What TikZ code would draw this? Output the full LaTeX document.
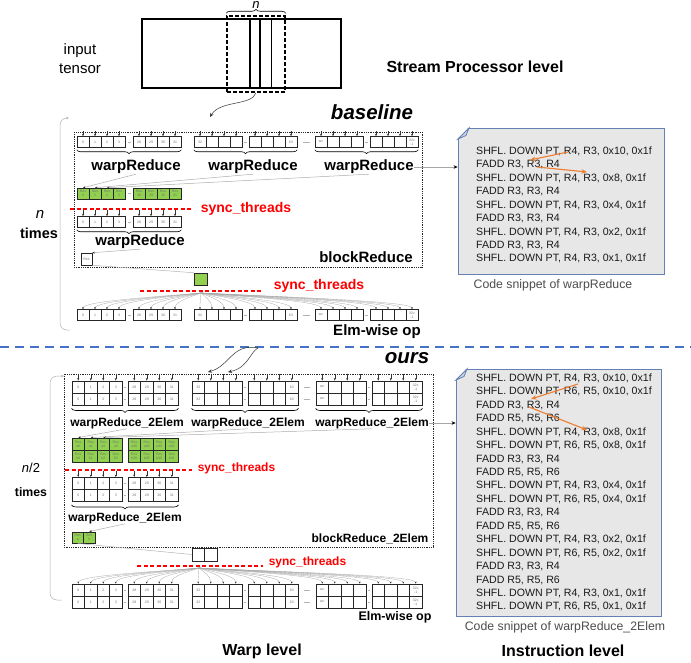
\documentclass[tikz,border=0pt]{standalone}
\usepackage{fontspec}
\setmainfont{Liberation Sans}
\usepackage{tikz}
\usetikzlibrary{positioning,arrows.meta,calc,decorations.pathreplacing}
\definecolor{resgreen}{RGB}{146,208,80}
\definecolor{syncred}{RGB}{255,0,0}
\definecolor{sepblue}{RGB}{68,114,196}
\definecolor{notegray}{RGB}{231,231,231}
\definecolor{noteblue}{RGB}{100,128,180}
\definecolor{regorange}{RGB}{237,125,49}

% four cells in a row: name, left x, centre y, cell width, style, labels
\newcommand{\cellgrp}[9]{%
  \node[#5] (#1-0) at (#2+0.5*#4,#3) {#6};
  \node[#5] (#1-1) at (#2+1.5*#4,#3) {#7};
  \node[#5] (#1-2) at (#2+2.5*#4,#3) {#8};
  \node[#5] (#1-3) at (#2+3.5*#4,#3) {#9};
}

\begin{document}
\begin{tikzpicture}[x=1pt, y=-1pt,
  cellb/.style={draw=black!85, fill=white, line width=0.5pt, minimum width=12pt, minimum height=11pt, inner sep=0pt, align=center, text=black!55, font=\fontsize{3.5}{3.9}\selectfont},
  cello/.style={cellb, line width=0.9pt, minimum width=12.5pt, minimum height=12pt},
  resb/.style={cellb, fill=resgreen},
  reso/.style={cello, fill=resgreen},
  wlab/.style={inner sep=0pt, font=\bfseries\fontsize{15}{18}\selectfont},
  wlabs/.style={inner sep=0pt, font=\bfseries\fontsize{12}{14}\selectfont},
  slab/.style={inner sep=0pt, text=syncred, font=\bfseries\fontsize{14}{17}\selectfont},
  slabs/.style={slab, font=\bfseries\fontsize{12}{14}\selectfont},
  sline/.style={draw=syncred, line width=1.1pt, dash pattern=on 4pt off 2.5pt},
  tick/.style={black!80, line width=0.4pt, -{Stealth[length=2.5pt,width=2pt]}},
  glink/.style={gray!65, line width=0.5pt, -{Stealth[length=2.5pt,width=2pt,color=black!80]}},
  fan/.style={gray!70, line width=0.3pt, -{Stealth[length=2pt,width=1.8pt,color=black!80]}},
  gdash/.style={gray!60, line width=0.5pt},
  brc/.style={decorate, decoration={brace, mirror, amplitude=4pt}, line width=0.6pt},
  loopl/.style={gray!60, line width=0.5pt, rounded corners=7pt, -{Stealth[length=3pt,width=2.5pt]}},
  dotbox/.style={draw=black!85, line width=0.8pt, densely dotted},
  tosnip/.style={gray!70, line width=0.6pt, -{Stealth[length=4pt,width=3.5pt,color=black]}},
  codetxt/.style={align=left, inner sep=0pt, text=black!90, font=\fontsize{10.6}{13.45}\selectfont},
  orng/.style={regorange, line width=1.1pt, -{Stealth[length=5.5pt,width=4.5pt]}},
  caplab/.style={inner sep=0pt, text=black!70, font=\fontsize{12.3}{14}\selectfont},
  curv/.style={black!80, line width=0.5pt, -{Stealth[length=4pt,width=3.5pt]}},
  ttl/.style={inner sep=0pt, font=\bfseries\fontsize{16}{19}\selectfont}
  ]
\useasboundingbox (0,0) rectangle (691,663);

% ---- stream processor level
\node[draw, line width=1.5pt, minimum width=199pt, minimum height=69pt] (tensor) at (241.5,53.5) {};
\draw[line width=1.3pt] (250,19) -- (250,88);
\draw[line width=1.3pt] (260,19) -- (260,88);
\draw[line width=1.3pt] (271.5,19) -- (271.5,88);
\node[draw, line width=1.5pt, dash pattern=on 4pt off 2pt, minimum width=58pt, minimum height=76pt] (dsel) at (256,54) {};
\draw[decorate, decoration={brace, amplitude=4pt}, line width=0.6pt] ([yshift=2pt]dsel.north west) -- ([yshift=2pt]dsel.north east);
\node[inner sep=0pt, font=\itshape\fontsize{13}{15}\selectfont] (nsel) at (256,5.5) {n};
\node[align=center, inner sep=0pt, font=\fontsize{15}{19}\selectfont] (intxt) at (80,59) {input\\tensor};
\node[ttl] (splvl) at (475,67) {Stream Processor level};
\coordinate (arrtop) at (210,117);
\draw[curv] (dsel.south) .. controls (252,106) and (220,100) .. (arrtop);

% ---- baseline
\node[inner sep=0pt, font=\bfseries\itshape\fontsize{20.5}{24}\selectfont] (basel) at (372,112) {baseline};
\draw[dotbox] (74,132) rectangle (422,267);
\coordinate (loop1b) at (70,330);
\coordinate (loop1t) at (69,118);
\draw[loopl] (loop1b) -- (60,330) -- (60,118) -- (loop1t);
\node[inner sep=0pt, font=\itshape\fontsize{15}{18}\selectfont] (n1) at (40,214) {n};
\node[inner sep=0pt, font=\bfseries\fontsize{14.5}{17}\selectfont] (times1) at (39,233) {times};

\cellgrp{r1a}{77}{142}{12}{cellb}{0}{1}{2}{3}
\cellgrp{r1b}{133}{142}{12}{cellb}{28}{29}{30}{31}
\cellgrp{r1c}{194}{142}{12}{cellb}{32}{}{}{}
\cellgrp{r1d}{249}{142}{12}{cellb}{}{}{}{63}
\cellgrp{r1e}{315}{142}{12}{cellb}{wc}{}{}{}
\cellgrp{r1f}{370}{142}{12}{cellb}{}{}{}{32c\\-1}
\foreach \g in {r1a,r1b,r1c,r1d,r1e,r1f}{
  \foreach \i in {0,...,3}{\draw[tick] ([yshift=5pt]\g-\i.north) -- (\g-\i.north);}}
\draw[brc] ([yshift=-2pt]r1a-0.south west) -- ([yshift=-2pt]r1b-3.south east);
\draw[brc] ([yshift=-2pt]r1c-0.south west) -- ([yshift=-2pt]r1d-3.south east);
\draw[brc] ([yshift=-2pt]r1e-0.south west) -- ([yshift=-2pt]r1f-3.south east);
\node[wlab] (wr1) at (136,167) {warpReduce};
\node[wlab] (wr2) at (253,167) {warpReduce};
\node[wlab] (wr3) at (369,167) {warpReduce};

\cellgrp{g1a}{77}{193.5}{12}{resb}{Res\\0}{Res\\1}{Res\\2}{Res\\3}
\cellgrp{g1b}{133}{193.5}{12}{resb}{Res\\28}{Res\\29}{Res\\30}{Res\\31}
\draw[glink] (wr1.south) -- (g1a-0.north);
\draw[glink] (wr2.south) -- (g1a-1.north);
\draw[glink] (wr3.south) -- (g1a-2.north);

\cellgrp{r3a}{77}{222}{12}{cellb}{0}{1}{2}{3}
\cellgrp{r3b}{133}{222}{12}{cellb}{28}{29}{30}{31}
\foreach \g in {r3a,r3b}{
  \foreach \i in {0,...,3}{\draw[tick] ([yshift=6.5pt]\g-\i.north) -- (\g-\i.north);}}
\node[slab] (sync1) at (246,209) {sync\_threads};
\draw[brc] ([yshift=-2pt]r3a-0.south west) -- ([yshift=-2pt]r3b-3.south east);
\node[wlab] (wr4) at (140,242) {warpReduce};
\node[cellb, minimum width=11pt, minimum height=12pt] (resw) at (86.5,259) {Res};
\draw[glink] (wr4.south) -- (resw.north east);
\node[wlab] (blk1) at (366,257) {blockReduce};

\node[resb, minimum width=13pt, minimum height=12pt] (gsq) at (200.5,279) {};
\draw[gdash] (resw.south east) -- (gsq.north west);
\coordinate (fan1) at (201,293);
\cellgrp{r5a}{77}{315}{12}{cellb}{0}{1}{2}{3}
\cellgrp{r5b}{133}{315}{12}{cellb}{28}{29}{30}{31}
\cellgrp{r5c}{194}{315}{12}{cellb}{32}{}{}{}
\cellgrp{r5d}{249}{315}{12}{cellb}{}{}{}{63}
\cellgrp{r5e}{315}{315}{12}{cellb}{wc}{}{}{}
\cellgrp{r5f}{370}{315}{12}{cellb}{}{}{}{32c\\-1}
\foreach \g in {r5a,r5b,r5c,r5d,r5e,r5f}{
  \foreach \i in {0,...,3}{
    \draw[fan] (fan1) .. controls ($(fan1)!0.4!(fan1 -| \g-\i.north)+(0,4)$) and ($(\g-\i.north)+(0,-8)$) .. (\g-\i.north);}}
\node[slab] (sync2) at (319,286) {sync\_threads};
\node[wlab] (elm1) at (377,332) {Elm-wise op};
\foreach \p/\q in {r1a/r1b,r1c/r1d,r1d/r1e,r1e/r1f,r3a/r3b,g1a/g1b,r5a/r5b,r5c/r5d,r5d/r5e,r5e/r5f}
  \draw[gdash] ($(\p-3.east)!0.3!(\q-0.west)$) -- ($(\p-3.east)!0.7!(\q-0.west)$);

% ---- code snippet of warpReduce
\node[draw=noteblue, fill=notegray, line width=0.8pt, minimum width=206pt, minimum height=146pt, inner sep=0pt] (snip1) at (561,201) {};
\fill[white] (456.5,126.5) -- (469.5,126.5) -- (456.5,139.5) -- cycle;
\filldraw[draw=noteblue, fill=noteblue!35, line width=0.8pt] (458,139) -- (469,128) -- (466,135.5) -- cycle;
\node[codetxt, anchor=west] (code1) at (476,205) {SHFL. DOWN PT, R4, R3, 0x10, 0x1f\\FADD R3, R3, R4\\SHFL. DOWN PT, R4, R3, 0x8, 0x1f\\FADD R3, R3, R4\\SHFL. DOWN PT, R4, R3, 0x4, 0x1f\\FADD R3, R3, R4\\SHFL. DOWN PT, R4, R3, 0x2, 0x1f\\FADD R3, R3, R4\\SHFL. DOWN PT, R4, R3, 0x1, 0x1f};
\coordinate (o1s) at (568,152);
\coordinate (o1e) at (530,160);
\coordinate (o2s) at (537,167);
\coordinate (o2e) at (587,172);
\draw[orng] (o1s) -- (o1e);
\draw[orng] (o2s) -- (o2e);
\node[caplab] (cap1) at (553,285) {Code snippet of warpReduce};
\draw[tosnip] (wr3.east) -- (wr3.east -| snip1.west);

% ---- separator
\draw[sepblue, line width=2pt, dash pattern=on 9pt off 6pt] (0,347) -- (691,347);

% ---- ours
\node[inner sep=0pt, font=\bfseries\itshape\fontsize{20.5}{24}\selectfont] (oursl) at (407,358) {ours};
\coordinate (csrc) at (258,348);
\coordinate (cendA) at (208,372);
\coordinate (cendB) at (228,372);
\draw[curv] (csrc) .. controls (232,343) and (230,366) .. (cendA);
\draw[curv] (csrc) .. controls (250,352) and (248,368) .. (cendB);
\draw[dotbox] (64,374) rectangle (433,547);
\coordinate (loop2b) at (62,600);
\coordinate (loop2t) at (64,376);
\draw[loopl] (loop2b) -- (50,600) -- (50,376) -- (loop2t);
\node[inner sep=0pt, font=\fontsize{13}{15}\selectfont] (n2) at (31,468) {\textit{n}/2};
\node[inner sep=0pt, font=\bfseries\fontsize{12.3}{15}\selectfont] (times2) at (31,492) {times};

\cellgrp{t1a}{72}{387}{12.5}{cello}{0}{1}{2}{3}
\cellgrp{t1b}{128}{387}{12.5}{cello}{28}{29}{30}{31}
\cellgrp{t1c}{192}{387}{12.5}{cello}{32}{}{}{}
\cellgrp{t1d}{248}{387}{12.5}{cello}{}{}{}{63}
\cellgrp{t1e}{316}{387}{12.5}{cello}{wc}{}{}{}
\cellgrp{t1f}{372}{387}{12.5}{cello}{}{}{}{32c\\-1}
\cellgrp{u1a}{72}{399}{12.5}{cello}{0}{1}{2}{3}
\cellgrp{u1b}{128}{399}{12.5}{cello}{28}{29}{30}{31}
\cellgrp{u1c}{192}{399}{12.5}{cello}{32}{}{}{}
\cellgrp{u1d}{248}{399}{12.5}{cello}{}{}{}{63}
\cellgrp{u1e}{316}{399}{12.5}{cello}{wc}{}{}{}
\cellgrp{u1f}{372}{399}{12.5}{cello}{}{}{}{32c\\-1}
\foreach \g in {t1a,t1b,t1c,t1d,t1e,t1f}{
  \foreach \i in {0,...,3}{\draw[tick] ([yshift=7pt]\g-\i.north) -- (\g-\i.north);}}
\draw[brc] ([yshift=-3pt]u1a-0.south west) -- ([yshift=-3pt]u1b-3.south east);
\draw[brc] ([yshift=-3pt]u1c-0.south west) -- ([yshift=-3pt]u1d-3.south east);
\draw[brc] ([yshift=-3pt]u1e-0.south west) -- ([yshift=-3pt]u1f-3.south east);
\node[wlabs] (wo1) at (127,423) {warpReduce\_2Elem};
\node[wlabs] (wo2) at (248,423) {warpReduce\_2Elem};
\node[wlabs] (wo3) at (372,423) {warpReduce\_2Elem};

\cellgrp{tga}{72}{444}{12.5}{reso}{Res\\a0}{Res\\a1}{Res\\a2}{Res\\a3}
\cellgrp{tgb}{128}{444}{12.5}{reso}{Res\\a28}{Res\\a29}{Res\\a30}{Res\\a31}
\cellgrp{uga}{72}{456}{12.5}{reso}{Res\\b0}{Res\\b1}{Res\\b2}{Res\\b3}
\cellgrp{ugb}{128}{456}{12.5}{reso}{Res\\b28}{Res\\b29}{Res\\b30}{Res\\b31}
\draw[glink] (wo1.south) -- (tga-0.north);
\draw[glink] (wo2.south) -- (tga-1.north);
\draw[glink] (wo3.south) -- (tga-2.north);

\cellgrp{t3a}{72}{483.5}{12.5}{cello}{0}{1}{2}{3}
\cellgrp{t3b}{128}{483.5}{12.5}{cello}{28}{29}{30}{31}
\cellgrp{u3a}{72}{495.5}{12.5}{cello}{0}{1}{2}{3}
\cellgrp{u3b}{128}{495.5}{12.5}{cello}{28}{29}{30}{31}
\foreach \g in {t3a,t3b}{
  \foreach \i in {0,...,3}{\draw[tick] ([yshift=6pt]\g-\i.north) -- (\g-\i.north);}}
\node[slabs] (sync3) at (236.5,468) {sync\_threads};
\draw[brc] ([yshift=-3pt]u3a-0.south west) -- ([yshift=-3pt]u3b-3.south east);
\node[wlabs] (wo4) at (125,518) {warpReduce\_2Elem};
\node[reso, minimum width=11.5pt, minimum height=11pt] (resa) at (77.75,537.5) {Res\\a};
\node[reso, minimum width=11.5pt, minimum height=11pt] (resbb) at (89.25,537.5) {Res\\b};
\draw[glink] (wo4.south) -- (resbb.north);
\node[wlabs] (blk2) at (370,539) {blockReduce\_2Elem};

\node[cello, minimum height=13pt] (wpa) at (198.25,554.5) {};
\node[cello, minimum height=13pt] (wpb) at (210.75,554.5) {};
\draw[gdash] (resa.south) -- (wpa.west);
\coordinate (fan2) at (199,568);
\cellgrp{t5a}{72}{590}{12.5}{cello}{0}{1}{2}{3}
\cellgrp{t5b}{128}{590}{12.5}{cello}{28}{29}{30}{31}
\cellgrp{t5c}{192}{590}{12.5}{cello}{32}{}{}{}
\cellgrp{t5d}{248}{590}{12.5}{cello}{}{}{}{63}
\cellgrp{t5e}{316}{590}{12.5}{cello}{wc}{}{}{}
\cellgrp{t5f}{372}{590}{12.5}{cello}{}{}{}{32c\\-1}
\cellgrp{u5a}{72}{602}{12.5}{cello}{0}{1}{2}{3}
\cellgrp{u5b}{128}{602}{12.5}{cello}{28}{29}{30}{31}
\cellgrp{u5c}{192}{602}{12.5}{cello}{32}{}{}{}
\cellgrp{u5d}{248}{602}{12.5}{cello}{}{}{}{63}
\cellgrp{u5e}{316}{602}{12.5}{cello}{wc}{}{}{}
\cellgrp{u5f}{372}{602}{12.5}{cello}{}{}{}{32c\\-1}
\foreach \g in {t5a,t5b,t5c,t5d,t5e,t5f}{
  \foreach \i in {0,...,3}{
    \draw[fan] (fan2) .. controls ($(fan2)!0.4!(fan2 -| \g-\i.north)+(0,4)$) and ($(\g-\i.north)+(0,-8)$) .. (\g-\i.north);}}
\node[slabs] (sync4) at (307.5,562) {sync\_threads};
\node[inner sep=0pt, font=\bfseries\fontsize{12.5}{15}\selectfont] (elm2) at (395,617) {Elm-wise op};
\foreach \p/\q in {t1a/t1b,t1c/t1d,t1d/t1e,t1e/t1f,u1a/u1b,u1c/u1d,u1d/u1e,u1e/u1f,t3a/t3b,u3a/u3b,t5a/t5b,t5c/t5d,t5d/t5e,t5e/t5f,u5a/u5b,u5c/u5d,u5d/u5e,u5e/u5f}
  \draw[gdash] ($(\p-3.east)!0.3!(\q-0.west)$) -- ($(\p-3.east)!0.7!(\q-0.west)$);

% ---- code snippet of warpReduce_2Elem
\node[draw=noteblue, fill=notegray, line width=0.8pt, minimum width=205pt, minimum height=247pt, inner sep=0pt] (snip2) at (558.5,492.5) {};
\fill[white] (454.5,367.5) -- (467.5,367.5) -- (454.5,380.5) -- cycle;
\filldraw[draw=noteblue, fill=noteblue!35, line width=0.8pt] (456,380) -- (467,369) -- (464,376.5) -- cycle;
\node[codetxt, anchor=west] (code2) at (476,492.5) {SHFL. DOWN PT, R4, R3, 0x10, 0x1f\\SHFL. DOWN PT, R6, R5, 0x10, 0x1f\\FADD R3, R3, R4\\FADD R5, R5, R6\\SHFL. DOWN PT, R4, R3, 0x8, 0x1f\\SHFL. DOWN PT, R6, R5, 0x8, 0x1f\\FADD R3, R3, R4\\FADD R5, R5, R6\\SHFL. DOWN PT, R4, R3, 0x4, 0x1f\\SHFL. DOWN PT, R6, R5, 0x4, 0x1f\\FADD R3, R3, R4\\FADD R5, R5, R6\\SHFL. DOWN PT, R4, R3, 0x2, 0x1f\\SHFL. DOWN PT, R6, R5, 0x2, 0x1f\\FADD R3, R3, R4\\FADD R5, R5, R6\\SHFL. DOWN PT, R4, R3, 0x1, 0x1f\\SHFL. DOWN PT, R6, R5, 0x1, 0x1f};
\coordinate (o3s) at (578,384);
\coordinate (o3e) at (531,399);
\coordinate (o4s) at (529,407);
\coordinate (o4e) at (587,430);
\draw[orng] (o3s) -- (o3e);
\draw[orng] (o4s) -- (o4e);
\node[caplab] (cap2) at (565,627) {Code snippet of warpReduce\_2Elem};
\draw[tosnip] (wo3.east) -- (wo3.east -| snip2.west);

% ---- level titles
\node[ttl] (warplvl) at (262,651) {Warp level};
\node[ttl] (instlvl) at (563,651) {Instruction level};

% ---- sync barriers, drawn last so nothing covers them
\draw[sline] (70,209) -- (193,209);
\draw[sline] (140,291) -- (263,291);
\draw[sline] (65,470) -- (192,470);
\draw[sline] (137,566) -- (263,566);
\end{tikzpicture}
\end{document}
